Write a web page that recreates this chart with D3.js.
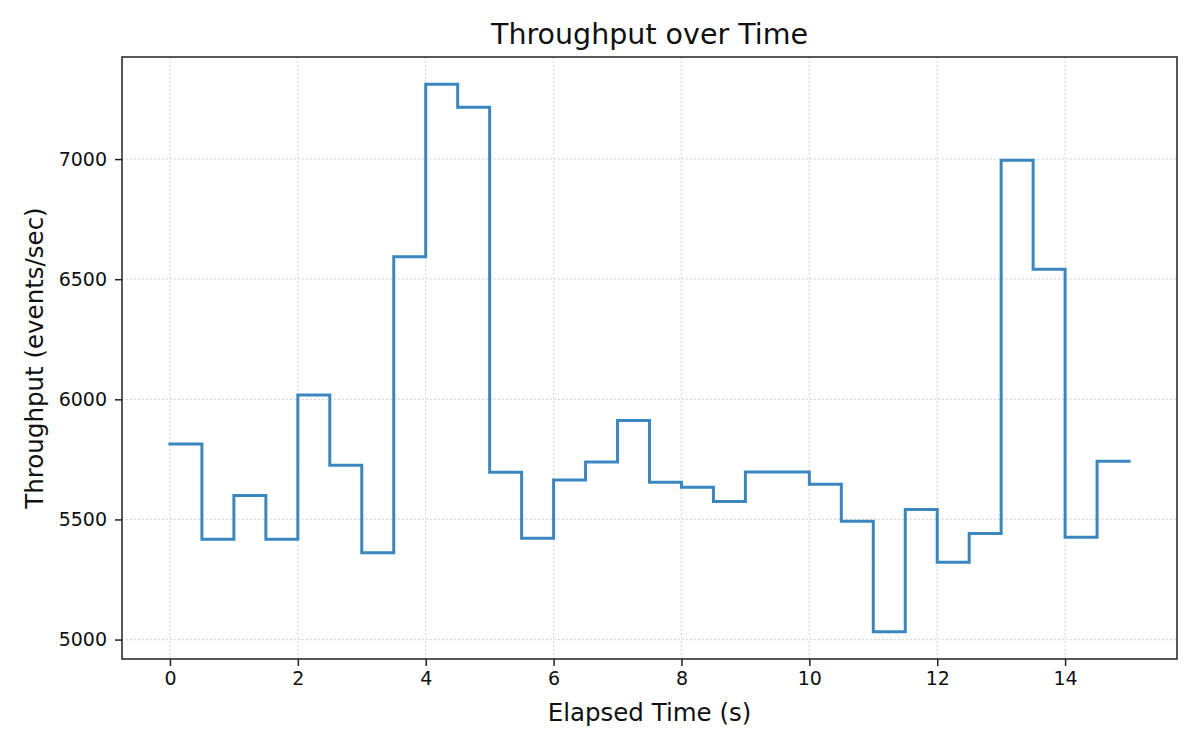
<!DOCTYPE html>
<html>
<head>
<meta charset="utf-8">
<script src="https://cdn.jsdelivr.net/npm/d3@7"></script>
<style>
  body { margin: 0; background: #fff; }
  svg { font-family: "DejaVu Sans", sans-serif; }
</style>
</head>
<body>
<div id="vis"></div>
<script>
const width = 1200;
const height = 750;
const margin = { top: 57, right: 23, bottom: 91, left: 122 };

// Elapsed time (s), one sample every half second
const times = [0, 0.5, 1, 1.5, 2, 2.5, 3, 3.5, 4, 4.5, 5, 5.5, 6, 6.5, 7, 7.5,
  8, 8.5, 9, 9.5, 10, 10.5, 11, 11.5, 12, 12.5, 13, 13.5, 14, 14.5, 15];
// Throughput (events/sec)
const throughput = [5814, 5418, 5600, 5418, 6018, 5726, 5361, 6593, 7311, 7216,
  5696, 5422, 5664, 5739, 5912, 5655, 5634, 5575, 5697, 5697, 5646, 5493,
  5033, 5541, 5322, 5442, 6995, 6541, 5426, 5742, 5742];
const xTicks = [0, 2, 4, 6, 8, 10, 12, 14];
const yTicks = [5000, 5500, 6000, 6500, 7000];

const data = times.map((t, i) => ({ t: t, v: throughput[i] }));

// matplotlib-like 5% padding on both axes
const xExt = d3.extent(times);
const xPad = (xExt[1] - xExt[0]) * 0.05;
const yExt = d3.extent(throughput);
const yPad = (yExt[1] - yExt[0]) * 0.05;

const xScale = d3.scaleLinear()
  .domain([xExt[0] - xPad, xExt[1] + xPad])
  .range([margin.left, width - margin.right]);
const yScale = d3.scaleLinear()
  .domain([yExt[0] - yPad, yExt[1] + yPad])
  .range([height - margin.bottom, margin.top]);

const svg = d3.select("#vis")
  .append("svg")
  .attr("width", width)
  .attr("height", height);

// Grid
const grid = svg.append("g")
  .attr("stroke", "#cfcfcf")
  .attr("stroke-width", 1.2)
  .attr("stroke-dasharray", "1.5,2.5");

grid.selectAll("line.gx")
  .data(xTicks)
  .join("line")
  .attr("class", "gx")
  .attr("x1", d => xScale(d))
  .attr("x2", d => xScale(d))
  .attr("y1", margin.top)
  .attr("y2", height - margin.bottom);

grid.selectAll("line.gy")
  .data(yTicks)
  .join("line")
  .attr("class", "gy")
  .attr("x1", margin.left)
  .attr("x2", width - margin.right)
  .attr("y1", d => yScale(d))
  .attr("y2", d => yScale(d));

// Step line
const line = d3.line()
  .x(d => xScale(d.t))
  .y(d => yScale(d.v))
  .curve(d3.curveStepAfter);

svg.append("path")
  .datum(data)
  .attr("fill", "none")
  .attr("stroke", "#3a87bf")
  .attr("stroke-width", 3)
  .attr("stroke-linejoin", "miter")
  .attr("stroke-linecap", "square")
  .attr("d", line);

// Axes
const xAxis = svg.append("g")
  .attr("transform", `translate(0,${height - margin.bottom})`)
  .call(d3.axisBottom(xScale).tickValues(xTicks).tickSize(7).tickPadding(6).tickFormat(d3.format("d")));

const yAxis = svg.append("g")
  .attr("transform", `translate(${margin.left},0)`)
  .call(d3.axisLeft(yScale).tickValues(yTicks).tickSize(7).tickPadding(8).tickFormat(d3.format("d")));

[xAxis, yAxis].forEach(ax => {
  ax.select(".domain").remove();
  ax.selectAll(".tick line").attr("stroke", "#222").attr("stroke-width", 1.5);
  ax.selectAll(".tick text")
    .attr("fill", "#111")
    .style("font-size", "19px")
    .style("font-family", "DejaVu Sans, sans-serif");
});

// Frame
svg.append("rect")
  .attr("x", margin.left)
  .attr("y", margin.top)
  .attr("width", width - margin.left - margin.right)
  .attr("height", height - margin.top - margin.bottom)
  .attr("fill", "none")
  .attr("stroke", "#222")
  .attr("stroke-width", 1.5);

// Title and labels
svg.append("text")
  .attr("x", (margin.left + width - margin.right) / 2)
  .attr("y", 44)
  .attr("text-anchor", "middle")
  .style("font-size", "28.5px")
  .attr("fill", "#111")
  .text("Throughput over Time");

svg.append("text")
  .attr("x", (margin.left + width - margin.right) / 2)
  .attr("y", 721)
  .attr("text-anchor", "middle")
  .style("font-size", "24.5px")
  .attr("fill", "#111")
  .text("Elapsed Time (s)");

svg.append("text")
  .attr("transform", `translate(43,${(margin.top + height - margin.bottom) / 2}) rotate(-90)`)
  .attr("text-anchor", "middle")
  .style("font-size", "24.5px")
  .attr("fill", "#111")
  .text("Throughput (events/sec)");
</script>
</body>
</html>
